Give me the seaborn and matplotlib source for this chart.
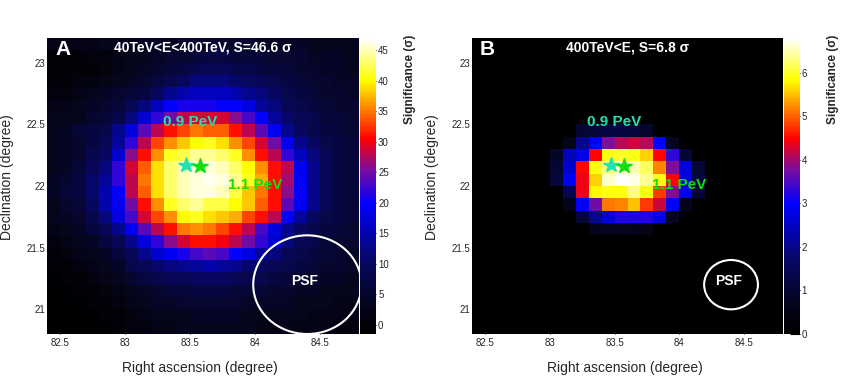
import matplotlib
matplotlib.use("Agg")
import numpy as np
import pandas as pd
import seaborn as sns
import matplotlib.pyplot as plt
from matplotlib.colors import LinearSegmentedColormap
from matplotlib.patches import Ellipse

# ---------------- data ----------------
ra_lo, ra_hi = 82.4, 84.8          # map edges (deg)
dec_lo, dec_hi = 20.8, 23.2
pix = 0.1                          # pixel size (deg)
ra_ticks = [82.5, 83.0, 83.5, 84.0, 84.5]
dec_ticks = [21.0, 21.5, 22.0, 22.5, 23.0]

# panel A significance, rows from Dec 23.2 (top) down to 20.8, columns RA 82.4 -> 84.8
sig_a = [
    [2, 2, 2, 2, 3, 3, 3, 4, 4, 4, 5, 5, 5, 5, 5, 5, 4, 4, 4, 4, 3, 3, 3, 3],
    [0, 0, 0, 1, 1, 2, 3, 3, 4, 5, 5, 6, 7, 7, 6, 6, 6, 5, 5, 5, 4, 4, 4, 3],
    [0, 0, 0, 0, 1, 2, 3, 4, 5, 6, 7, 8, 9, 9, 8, 8, 7, 6, 6, 5, 5, 4, 4, 3],
    [0, 0, 1, 1, 2, 3, 4, 5, 7, 8, 10, 12, 12, 12, 11, 10, 9, 8, 7, 6, 5, 5, 4, 4],
    [1, 1, 2, 3, 4, 5, 6, 7, 10, 13, 15, 16, 16, 16, 15, 13, 12, 10, 8, 7, 6, 5, 5, 4],
    [2, 2, 3, 4, 5, 6, 9, 12, 16, 20, 21, 21, 21, 20, 20, 18, 14, 12, 9, 8, 7, 6, 5, 5],
    [3, 3, 3, 5, 6, 8, 12, 17, 22, 25, 28, 29, 29, 29, 26, 23, 20, 14, 11, 9, 8, 6, 6, 5],
    [3, 4, 6, 7, 8, 13, 18, 24, 28, 31, 33, 35, 34, 34, 31, 28, 24, 19, 13, 10, 8, 7, 6, 5],
    [3, 4, 5, 7, 9, 14, 22, 28, 33, 36, 38, 40, 41, 39, 36, 33, 29, 25, 19, 13, 10, 8, 7, 6],
    [3, 4, 5, 8, 10, 17, 26, 31, 36, 41, 42, 44, 44, 43, 41, 36, 31, 28, 22, 16, 12, 9, 7, 6],
    [3, 4, 6, 9, 12, 22, 29, 34, 39, 43, 45, 46, 46, 45, 43, 40, 36, 31, 28, 19, 13, 9, 7, 6],
    [4, 5, 7, 11, 14, 22, 28, 35, 39, 43, 45, 46, 46.6, 46, 44, 41, 37, 31, 27, 19, 13, 9, 7, 6],
    [4, 6, 7, 11, 15, 20, 28, 34, 39, 43, 45, 46, 46, 45, 42, 38, 35, 31, 26, 20, 13, 9, 7, 6],
    [3, 5, 6, 10, 15, 19, 25, 31, 36, 41, 43, 44, 42, 42, 40, 38, 34, 31, 24, 19, 13, 9, 7, 6],
    [3, 4, 5, 8, 12, 18, 23, 29, 33, 36, 40, 41, 39, 38, 37, 33, 31, 28, 20, 14, 10, 8, 7, 6],
    [2, 3, 4, 7, 9, 13, 19, 24, 28, 31, 35, 36, 35, 33, 31, 28, 23, 18, 13, 10, 8, 7, 6, 5],
    [1, 2, 3, 4, 7, 9, 13, 18, 22, 26, 29, 31, 31, 30, 28, 25, 22, 17, 12, 9, 8, 6, 5, 5],
    [0, 1, 2, 3, 4, 7, 9, 13, 17, 19, 21, 23, 24, 23, 20, 18, 14, 12, 9, 8, 7, 6, 5, 4],
    [0, 0, 1, 2, 3, 4, 8, 9, 11, 12, 13, 14, 15, 14, 13, 11, 10, 9, 8, 7, 6, 5, 5, 4],
    [-1, 0, 0, 1, 2, 3, 5, 7, 8, 9, 9, 10, 10, 10, 9, 8, 8, 7, 6, 5, 5, 4, 4, 3],
    [-1, -1, 0, 0, 1, 2, 3, 4, 5, 6, 6, 7, 7, 7, 6, 6, 6, 5, 5, 4, 4, 3, 3, 3],
    [-1, -1, -1, 0, 0, 1, 2, 3, 4, 4, 5, 5, 5, 5, 5, 4, 4, 4, 4, 3, 3, 3, 2, 2],
    [-1, -1, -1, -1, 0, 0, 1, 2, 3, 3, 3, 4, 4, 4, 4, 3, 3, 3, 3, 3, 2, 2, 2, 2],
    [-1, -1, -1, -1, -1, 0, 1, 1, 2, 2, 3, 3, 3, 3, 3, 3, 2, 2, 2, 2, 2, 2, 1, 1],
]

# panel B significance (same grid)
sig_b = [
    [0, 0, 0, 0, 0, 0, 0, 0, 0, 0, 0, 0, 0, 0, 0, 0, 0, 0, 0, 0, 0, 0, 0, 0],
    [0, 0, 0, 0, 0, 0, 0, 0, 0, 0, 0, 0, 0, 0, 0, 0, 0, 0, 0, 0, 0, 0, 0, 0],
    [0, 0, 0, 0, 0, 0, 0, 0, 0, 0, 0, 0, 0, 0, 0, 0, 0, 0, 0, 0, 0, 0, 0, 0],
    [0, 0, 0, 0, 0, 0, 0, 0, 0, 0, 0, 0, 0, 0, 0, 0, 0, 0, 0, 0, 0, 0, 0, 0],
    [0, 0, 0, 0, 0, 0, 0, 0, 0, 0, 0, 0, 0, 0, 0, 0, 0, 0, 0, 0, 0, 0, 0, 0],
    [0, 0, 0, 0, 0, 0, 0, 0, 0, 0, 0, 0, 0, 0, 0, 0, 0, 0, 0, 0, 0, 0, 0, 0],
    [0, 0, 0, 0, 0, 0, 0, 0, 0, 0, 0, 0, 0, 0, 0, 0, 0, 0, 0, 0, 0, 0, 0, 0],
    [0, 0, 0, 0, 0, 0, 0, 0, 1.0, 1.1, 1.2, 1.2, 1.1, 0.9, 0, 0, 0, 0, 0, 0, 0, 0, 0, 0],
    [0, 0, 0, 0, 0, 0, 0, 0.6, 2.0, 3.0, 3.8, 4.1, 4.2, 4.1, 3.0, 0.7, 0, 0, 0, 0, 0, 0, 0, 0],
    [0, 0, 0, 0, 0, 0, 0.8, 2.4, 2.8, 4.5, 5.9, 6.0, 5.9, 5.6, 4.5, 3.3, 1.0, 0, 0, 0, 0, 0, 0, 0],
    [0, 0, 0, 0, 0, 0, 1.0, 2.6, 4.5, 5.9, 6.3, 6.6, 6.5, 6.2, 5.2, 3.8, 2.7, 1.0, 0, 0, 0, 0, 0, 0],
    [0, 0, 0, 0, 0, 0, 1.1, 2.9, 4.4, 5.6, 6.6, 6.8, 6.7, 6.4, 5.9, 4.5, 2.8, 1.1, 0, 0, 0, 0, 0, 0],
    [0, 0, 0, 0, 0, 0, 0, 1.3, 4.4, 5.8, 5.9, 5.9, 6.3, 5.9, 4.8, 3.8, 2.8, 1.0, 0, 0, 0, 0, 0, 0],
    [0, 0, 0, 0, 0, 0, 0, 0.6, 2.9, 3.7, 5.1, 5.2, 5.5, 4.8, 4.2, 2.9, 0.6, 0, 0, 0, 0, 0, 0, 0],
    [0, 0, 0, 0, 0, 0, 0, 0, 1.0, 2.0, 2.7, 3.2, 3.2, 3.2, 2.8, 0.7, 0, 0, 0, 0, 0, 0, 0, 0],
    [0, 0, 0, 0, 0, 0, 0, 0, 0, 0.6, 0.7, 0.7, 0.6, 0.5, 0, 0, 0, 0, 0, 0, 0, 0, 0, 0],
    [0, 0, 0, 0, 0, 0, 0, 0, 0, 0, 0, 0, 0, 0, 0, 0, 0, 0, 0, 0, 0, 0, 0, 0],
    [0, 0, 0, 0, 0, 0, 0, 0, 0, 0, 0, 0, 0, 0, 0, 0, 0, 0, 0, 0, 0, 0, 0, 0],
    [0, 0, 0, 0, 0, 0, 0, 0, 0, 0, 0, 0, 0, 0, 0, 0, 0, 0, 0, 0, 0, 0, 0, 0],
    [0, 0, 0, 0, 0, 0, 0, 0, 0, 0, 0, 0, 0, 0, 0, 0, 0, 0, 0, 0, 0, 0, 0, 0],
    [0, 0, 0, 0, 0, 0, 0, 0, 0, 0, 0, 0, 0, 0, 0, 0, 0, 0, 0, 0, 0, 0, 0, 0],
    [0, 0, 0, 0, 0, 0, 0, 0, 0, 0, 0, 0, 0, 0, 0, 0, 0, 0, 0, 0, 0, 0, 0, 0],
    [0, 0, 0, 0, 0, 0, 0, 0, 0, 0, 0, 0, 0, 0, 0, 0, 0, 0, 0, 0, 0, 0, 0, 0],
    [0, 0, 0, 0, 0, 0, 0, 0, 0, 0, 0, 0, 0, 0, 0, 0, 0, 0, 0, 0, 0, 0, 0, 0],
]

panel_letters = ["A", "B"]
panel_titles = ["40TeV<E<400TeV, S=46.6 \u03c3", "400TeV<E, S=6.8 \u03c3"]
z_ranges = [(-1.5, 47.0), (0.0, 6.8)]
cbar_ticks = [[0, 5, 10, 15, 20, 25, 30, 35, 40, 45], [0, 1, 2, 3, 4, 5, 6]]
src_09_pos = (83.47, 22.17)        # 0.9 PeV photon
src_11_pos = (83.575, 22.16)       # 1.1 PeV photon
lbl_09_pos = (83.50, 22.52)
lbl_11_pos = (84.00, 22.01)
psf_center = (84.40, 21.20)
psf_radius = [0.40, 0.20]

# ---------------- style ----------------
sns.set_style("white")
plt.rcParams["font.family"] = ["Liberation Sans", "DejaVu Sans"]

cmap = LinearSegmentedColormap.from_list("sigmap", [
    (0.00, (0.00, 0.00, 0.00)),
    (0.10, (0.02, 0.02, 0.12)),
    (0.25, (0.03, 0.03, 0.40)),
    (0.44, (0.00, 0.00, 1.00)),
    (0.56, (0.50, 0.05, 0.60)),
    (0.66, (1.00, 0.00, 0.00)),
    (0.76, (1.00, 0.50, 0.00)),
    (0.86, (1.00, 1.00, 0.00)),
    (1.00, (1.00, 1.00, 1.00)),
], N=256)

W, H = 848, 376
fig = plt.figure(figsize=(W / 100, H / 100), dpi=100)

def fx(ra):
    return (np.asarray(ra) - ra_lo) / pix

def fy(dec):
    return (dec_hi - np.asarray(dec)) / pix

ax_boxes = [(47.3, 38, 312, 296), (472.3, 38, 310.5, 296)]
cb_boxes = [(360.0, 38, 16, 296), (783.5, 38, 16, 296)]
cyan = "#22e0b0"
green = "#11dd11"

for i, (grid, box, cbox) in enumerate(zip([sig_a, sig_b], ax_boxes, cb_boxes)):
    l, t, w, h = box
    ax = fig.add_axes([l / W, 1 - (t + h) / H, w / W, h / H])
    cl, ct, cw, ch = cbox
    cax = fig.add_axes([cl / W, 1 - (ct + ch) / H, cw / W, ch / H])
    df = pd.DataFrame(np.array(grid, dtype=float))
    vmin, vmax = z_ranges[i]
    sns.heatmap(df, ax=ax, cbar_ax=cax, cmap=cmap, vmin=vmin, vmax=vmax,
                xticklabels=False, yticklabels=False, linewidths=0,
                cbar_kws={"ticks": cbar_ticks[i]})
    ax.set_xlim(0, len(grid[0]))
    ax.set_ylim(len(grid), 0)
    ax.set_xticks(fx(ra_ticks))
    ax.set_xticklabels([f"{v:g}" for v in ra_ticks], fontsize=7)
    ax.set_yticks(fy(dec_ticks))
    ax.set_yticklabels([f"{v:g}" for v in dec_ticks], fontsize=7)
    ax.tick_params(axis="both", direction="in", length=5, color="black",
                   bottom=True, left=True, pad=3)
    ax.tick_params(axis="y", pad=1.5)
    ax.set_xlabel("Right ascension (degree)", fontsize=10)
    ax.set_ylabel("Declination (degree)", fontsize=10)
    ax.xaxis.set_label_coords(0.49, -0.09)
    ax.yaxis.set_label_coords(-0.108, 0.53)

    # PSF circle and label
    r = psf_radius[i]
    ell = Ellipse((fx(psf_center[0]), fy(psf_center[1])), width=2 * r * 1.04 / pix,
                  height=2 * r / pix, fill=False, edgecolor="white", lw=1.5,
                  clip_on=False, zorder=5)
    ax.add_patch(ell)
    ax.text(fx(psf_center[0]) - 0.2, fy(psf_center[1]) - 0.3, "PSF", color="white",
            fontsize=10, fontweight="bold", ha="center", va="center", zorder=6)

    # photons
    ax.plot(fx(src_09_pos[0]), fy(src_09_pos[1]), marker="*", ms=11.5, color=cyan,
            mec=cyan, ls="none", zorder=7)
    ax.plot(fx(src_11_pos[0]), fy(src_11_pos[1]), marker="*", ms=11.5, color=green,
            mec=green, ls="none", zorder=8)
    ax.text(fx(lbl_09_pos[0]), fy(lbl_09_pos[1]), "0.9 PeV", color=cyan, fontsize=11,
            fontweight="bold", ha="center", va="center", zorder=9)
    ax.text(fx(lbl_11_pos[0]), fy(lbl_11_pos[1]), "1.1 PeV", color=green, fontsize=11,
            fontweight="bold", ha="center", va="center", zorder=9)

    # title & panel letter
    ax.text(0.5, 0.968, panel_titles[i], transform=ax.transAxes, color="white",
            fontsize=10, fontweight="bold", ha="center", va="center", zorder=9)
    ax.text(0.025, 0.962, panel_letters[i], transform=ax.transAxes, color="white",
            fontsize=15, fontweight="bold", ha="left", va="center", zorder=9)

    for s in ax.spines.values():
        s.set_visible(False)

    # colorbar
    cax.tick_params(axis="y", direction="in", length=7, color="black", labelsize=7,
                    pad=1.5, right=True, left=False)
    cax.set_ylim(vmin, vmax)
    for s in cax.spines.values():
        s.set_visible(False)
    cax.text(3.1, 0.86, "Significance (\u03c3)", transform=cax.transAxes, rotation=90,
             fontsize=8.5, fontweight="bold", ha="center", va="center")

fig.savefig("out.png", dpi=100)
